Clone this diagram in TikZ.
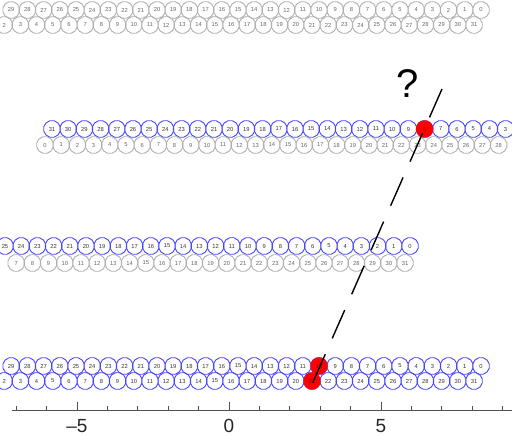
\documentclass[tikz,border=0pt]{standalone}
\usepackage{fontspec}
\setmainfont{Liberation Sans}
\usetikzlibrary{shapes.geometric}
\definecolor{chainblue}{RGB}{70,70,255}
\definecolor{chaingray}{RGB}{175,175,175}
\definecolor{axisgray}{RGB}{80,80,80}
\tikzset{
  cell/.style={regular polygon, regular polygon sides=12, minimum size=17pt,
    inner sep=0pt, line width=0.9pt, font=\fontsize{5.8}{5.8}\selectfont},
  graycell/.style={cell, draw=chaingray, text=black!60},
  bluecell/.style={cell, draw=chainblue, text=black!80},
  reddot/.style={circle, fill=red, minimum size=17.5pt, inner sep=0pt,
    font=\fontsize{5.8}{5.8}\selectfont, text=black!40!red},
  probe/.style={line width=1.4pt, black, dash pattern=on 31pt off 17.3pt},
  tickmark/.style={line width=1pt, axisgray},
  ticklabel/.style={font=\fontsize{19}{19}\selectfont, text=black!85, inner sep=0pt},
}
\begin{document}
\begin{tikzpicture}[x=1pt,y=-1pt]
\useasboundingbox (0,0) rectangle (512,437);
% row 1 (gray)
\foreach \i in {0,...,29} \node[graycell] (ra-t\i) at ({481-16.2*\i},10) {\i};
\foreach \j in {2,...,31} \node[graycell] (ra-b\j) at ({474-16.2*(31-\j)},25) {\j};
% row 2
\foreach \i in {3,...,31} \node[bluecell] (rb-t\i) at ({52+16.2*(31-\i)},129) {\i};
\foreach \j in {0,...,28} \node[graycell] (rb-b\j) at ({45+16.2*\j},145) {\j};
% row 3
\foreach \i in {0,...,25} \node[bluecell] (rc-t\i) at ({410-16.2*\i},246) {\i};
\foreach \j in {7,...,31} \node[graycell] (rc-b\j) at ({405-16.2*(31-\j)},263) {\j};
% row 4 (blue)
\foreach \i in {0,...,29} \node[bluecell] (rd-t\i) at ({481-16.2*\i},366) {\i};
\foreach \j in {2,...,31} \node[bluecell] (rd-b\j) at ({474-16.2*(31-\j)},381) {\j};
% red markers
\node[reddot] (hit-b) at (rb-t8) {8};
\node[reddot] (hit-d1) at (rd-t10) {10};
\node[reddot] (hit-d2) at (rd-b21) {21};
% probe line
\coordinate (probe-top) at (442,89);
\coordinate (probe-bot) at (306,398);
\draw[probe] (probe-top) -- (probe-bot);
\node[font=\fontsize{40}{40}\selectfont, inner sep=0pt] (query) at (408,84) {?};
% axis
\coordinate (ax-l) at (12,410.5);
\coordinate (ax-r) at (512,410.5);
\draw[line width=1.2pt, axisgray] (ax-l) -- (ax-r);
\foreach \k in {-7,...,9} {
  \pgfmathsetmacro{\tx}{229+30.4*\k}
  \draw[tickmark] (\tx,410.5) -- (\tx,406);
}
\foreach \k in {-5,0,5} {
  \pgfmathsetmacro{\tx}{229+30.4*\k}
  \draw[tickmark] (\tx,410.5) -- (\tx,401.5);
}
\node[ticklabel] (lab-m5) at (77,426) {\textendash5};
\node[ticklabel] (lab-0) at (229,426) {0};
\node[ticklabel] (lab-5) at (381,426) {5};
\end{tikzpicture}
\end{document}
